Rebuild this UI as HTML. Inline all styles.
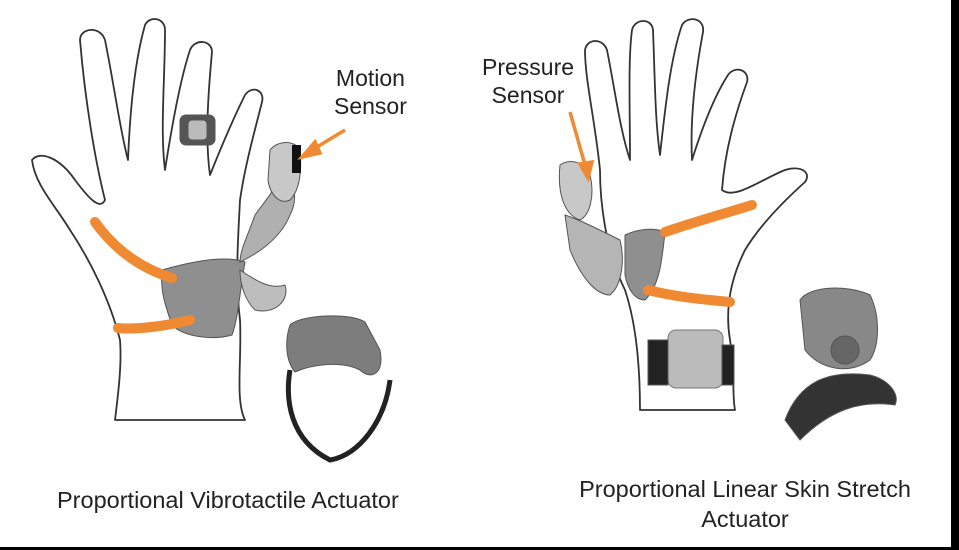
<!DOCTYPE html>
<html><head><style>
body{margin:0;width:959px;height:550px;overflow:hidden;background:#000;}
.c{position:absolute;left:0;top:0;width:951px;height:547px;background:#fff;}
.t{position:absolute;font-family:"Liberation Sans",sans-serif;color:#222;}
</style></head><body><div class="c">
<svg width="951" height="547" style="position:absolute;left:0;top:0">
<g fill="#fff" stroke="#333" stroke-width="1.8" stroke-linejoin="round">
<path d="M120 340 C110 300 90 260 70 230 C55 205 35 185 32 160 C40 150 60 158 75 180 C90 200 100 210 105 200 C95 160 85 100 80 40 C80 28 100 25 105 40 C115 90 120 130 128 160 C130 110 135 60 145 25 C150 15 165 18 165 30 C165 80 160 130 165 170 C172 125 180 80 190 50 C195 38 212 40 212 52 C208 95 205 140 210 175 C222 145 235 115 245 95 C252 85 265 90 262 102 C255 130 245 165 240 200 C238 240 235 280 240 320 C242 360 235 400 245 420 L115 420 C118 395 122 365 120 340 Z"/>
<path d="M640 410 C640 360 635 320 625 290 C605 250 600 200 600 170 C595 120 585 80 585 50 C587 38 603 38 607 50 C615 90 620 130 630 160 C630 110 628 60 632 30 C635 18 652 18 653 30 C655 80 655 120 660 155 C665 110 670 60 682 25 C688 15 705 18 703 32 C695 75 690 120 692 160 C703 125 715 95 728 75 C735 65 750 70 747 82 C735 115 725 150 722 190 C735 200 760 180 785 170 C800 165 812 172 805 182 C785 200 760 225 745 250 C730 280 725 310 730 340 C735 370 732 395 735 410 Z"/>
</g>
<g fill="#8f8f8f" stroke="#555" stroke-width="1">
<path d="M162 270 C190 262 225 255 245 262 C240 290 238 320 232 335 C215 340 185 338 172 325 C165 305 160 290 162 270 Z"/>
<path d="M240 262 C255 255 280 240 290 215 C298 200 295 180 285 170 C275 190 262 205 255 215 C248 235 240 250 240 262 Z" fill="#b0b0b0"/>
<path d="M270 150 C278 140 295 140 300 150 C302 170 300 190 290 200 C280 205 270 195 268 180 Z" fill="#c8c8c8"/>
<path d="M240 270 C255 280 270 290 285 285 C290 300 275 315 255 310 C245 300 240 285 240 270 Z" fill="#bdbdbd"/>
<rect x="180" y="115" width="35" height="30" rx="6" fill="#555"/>
<rect x="188" y="120" width="19" height="20" rx="4" fill="#bbb"/>
<path d="M625 235 C640 228 655 228 665 232 C662 260 660 285 645 300 C635 300 628 290 625 275 Z"/>
<path d="M560 165 C570 158 585 162 590 175 C595 195 590 215 580 220 C565 215 557 195 560 165 Z" fill="#c8c8c8"/>
<path d="M565 215 C580 220 600 230 620 240 C625 260 622 285 610 295 C595 295 580 275 570 250 Z" fill="#b5b5b5"/>
<rect x="668" y="330" width="55" height="58" rx="8" fill="#bbb" stroke="#777"/>
<rect x="648" y="340" width="20" height="45" fill="#222"/>
<rect x="722" y="345" width="12" height="40" fill="#222"/>
<path d="M290 325 C300 315 350 312 365 322 L380 350 C385 375 370 380 360 370 C340 360 310 365 295 372 C285 360 285 340 290 325 Z" fill="#7d7d7d"/>
<path d="M290 370 C285 400 290 440 330 460 C360 455 385 420 390 380" fill="none" stroke="#222" stroke-width="5"/>
<path d="M800 300 C810 285 850 285 870 295 C880 315 880 345 870 360 C850 375 820 370 805 350 Z" fill="#888"/>
<circle cx="845" cy="350" r="14" fill="#666"/>
<path d="M785 420 C800 380 830 370 870 375 C890 380 900 395 895 405 C860 400 830 410 800 440 Z" fill="#333"/>
</g>
<rect x="292" y="145" width="9" height="28" fill="#111"/>
<g fill="none" stroke="#f08a32" stroke-width="10" stroke-linecap="round">
<path d="M95 222 C115 250 140 268 172 278"/>
<path d="M118 328 C140 330 170 325 190 320"/>
<path d="M665 232 C700 220 730 212 752 205"/>
<path d="M648 290 C680 298 710 300 730 302"/>
</g>
<g stroke="#f08a32" stroke-width="3.5" fill="#f08a32">
<line x1="345" y1="130" x2="312" y2="150"/><polygon points="302,157 315,142 320,153"/>
<line x1="570" y1="112" x2="585" y2="165"/><polygon points="588,178 580,164 592,162"/>
</g>
</svg>
<div class="t" style="left:334px;top:64px;font-size:23px;text-align:center;line-height:28px">Motion<br>Sensor</div>
<div class="t" style="left:482px;top:53px;font-size:23px;text-align:center;line-height:28px">Pressure<br>Sensor</div>
<div class="t" style="left:57px;top:487px;font-size:23.5px">Proportional Vibrotactile Actuator</div>
<div class="t" style="left:545px;top:474px;width:400px;font-size:23.5px;text-align:center;line-height:30px">Proportional Linear Skin Stretch<br>Actuator</div>
</div></body></html>
